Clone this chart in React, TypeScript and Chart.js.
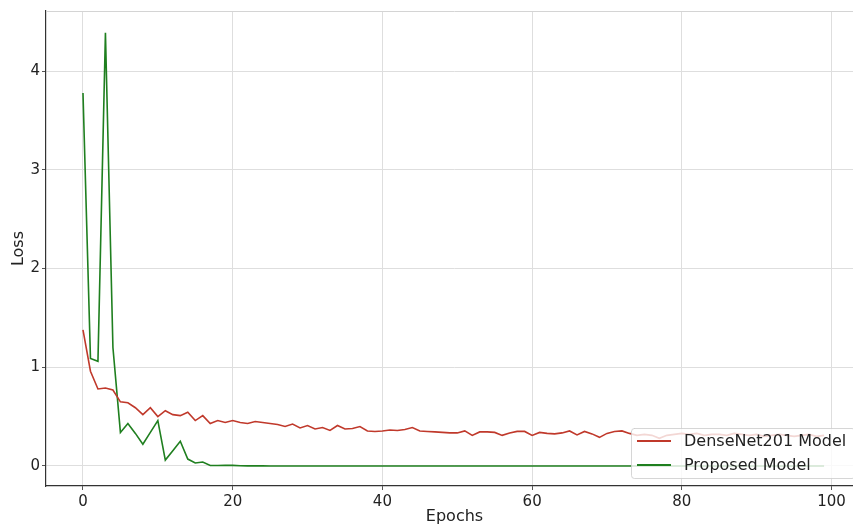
import { useEffect, useRef } from "react";
import { Chart, registerables } from "chart.js";

Chart.register(...registerables);

const epochs = [
  0, 1, 2, 3, 4, 5, 6, 7, 8, 9, 10, 11, 12, 13, 14, 15, 16, 17, 18, 19,
  20, 21, 22, 23, 24, 25, 26, 27, 28, 29, 30, 31, 32, 33, 34, 35, 36, 37, 38, 39,
  40, 41, 42, 43, 44, 45, 46, 47, 48, 49, 50, 51, 52, 53, 54, 55, 56, 57, 58, 59,
  60, 61, 62, 63, 64, 65, 66, 67, 68, 69, 70, 71, 72, 73, 74, 75, 76, 77, 78, 79,
  80, 81, 82, 83, 84, 85, 86, 87, 88, 89, 90, 91, 92, 93, 94, 95, 96, 97, 98, 99,
];

const denseNetLoss = [
  1.38, 0.96, 0.78, 0.79, 0.77, 0.65, 0.64, 0.59, 0.52, 0.59,
  0.5, 0.56, 0.52, 0.51, 0.545, 0.46, 0.51, 0.43, 0.46, 0.44,
  0.46, 0.44, 0.43, 0.45, 0.44, 0.43, 0.42, 0.4, 0.425, 0.385,
  0.41, 0.375, 0.39, 0.36, 0.41, 0.375, 0.38, 0.4, 0.355, 0.35,
  0.355, 0.365, 0.36, 0.37, 0.39, 0.355, 0.35, 0.345, 0.34, 0.335,
  0.335, 0.355, 0.31, 0.345, 0.345, 0.34, 0.31, 0.335, 0.35, 0.35,
  0.31, 0.34, 0.33, 0.325, 0.335, 0.355, 0.315, 0.35, 0.325, 0.29,
  0.33, 0.35, 0.355, 0.33, 0.31, 0.32, 0.31, 0.28, 0.31, 0.32,
  0.33, 0.32, 0.33, 0.31, 0.32, 0.32, 0.31, 0.33, 0.32, 0.31,
  0.32, 0.3, 0.31, 0.32, 0.31, 0.3, 0.31, 0.32, 0.3, 0.31,
];

const proposedLoss = [
  3.78, 1.09, 1.06, 4.39, 1.2, 0.34, 0.43, 0.33, 0.22, 0.34,
  0.46, 0.06, 0.155, 0.25, 0.07, 0.03, 0.04, 0.005, 0.005, 0.008,
  0.006, 0.002, 0.001, 0.001, 0.001, 0, 0, 0, 0, 0,
  0, 0, 0, 0, 0, 0, 0, 0, 0, 0,
  0, 0, 0, 0, 0, 0, 0, 0, 0, 0,
  0, 0, 0, 0, 0, 0, 0, 0, 0, 0,
  0, 0, 0, 0, 0, 0, 0, 0, 0, 0,
  0, 0, 0, 0, 0, 0, 0, 0, 0, 0,
  0, 0, 0, 0, 0, 0, 0, 0, 0, 0,
  0, 0, 0, 0, 0, 0, 0, 0, 0, 0,
];

const seriesLabels = ["DenseNet201 Model", "Proposed Model"];
const seriesColors = ["#c0392b", "#1f7f1f"];
const xTickValues = [0, 20, 40, 60, 80, 100];
const yTickValues = [0, 1, 2, 3, 4];

const FONT = "'DejaVu Sans', 'Liberation Sans', sans-serif";

const decorPlugin = {
  id: "decor",
  afterDatasetsDraw(chart: any) {
    const { ctx, chartArea } = chart;
    ctx.save();
    // top spine (light)
    ctx.strokeStyle = "#d4d4d4";
    ctx.lineWidth = 1;
    ctx.beginPath();
    ctx.moveTo(chartArea.left, chartArea.top + 0.5);
    ctx.lineTo(chartArea.right, chartArea.top + 0.5);
    ctx.stroke();

    // legend (lower right)
    const boxW = 224;
    const boxH = 51;
    const boxRight = chartArea.right - 8;
    const boxBottom = chartArea.bottom - 7;
    const bx = boxRight - boxW;
    const by = boxBottom - boxH;
    ctx.fillStyle = "rgba(255,255,255,0.8)";
    ctx.strokeStyle = "rgba(204,204,204,0.8)";
    ctx.lineWidth = 1;
    ctx.beginPath();
    const r = 3;
    ctx.moveTo(bx + r, by + 0.5);
    ctx.lineTo(bx + boxW - r, by + 0.5);
    ctx.arcTo(bx + boxW, by + 0.5, bx + boxW, by + r, r);
    ctx.lineTo(bx + boxW, by + boxH - r);
    ctx.arcTo(bx + boxW, by + boxH - 0.5, bx + boxW - r, by + boxH - 0.5, r);
    ctx.lineTo(bx + 0.5 + r, by + boxH - 0.5);
    ctx.arcTo(bx + 0.5, by + boxH - 0.5, bx + 0.5, by + boxH - r, r);
    ctx.lineTo(bx + 0.5, by + r);
    ctx.arcTo(bx + 0.5, by + 0.5, bx + r, by + 0.5, r);
    ctx.closePath();
    ctx.fill();
    ctx.stroke();

    ctx.font = `16px ${FONT}`;
    ctx.textBaseline = "middle";
    ctx.textAlign = "left";
    chart.data.datasets.forEach((ds: any, i: number) => {
      const cy = by + 13 + i * 24;
      ctx.strokeStyle = ds.borderColor;
      ctx.lineWidth = 2;
      ctx.beginPath();
      ctx.moveTo(bx + 6, cy);
      ctx.lineTo(bx + 40, cy);
      ctx.stroke();
      ctx.fillStyle = "#222222";
      ctx.fillText(ds.label, bx + 53, cy + 1);
    });
    ctx.restore();
  },
};

export default function App() {
  const canvasRef = useRef<HTMLCanvasElement | null>(null);

  useEffect(() => {
    const canvas = canvasRef.current;
    if (!canvas) return;
    const chart = new Chart(canvas, {
      type: "line",
      data: {
        datasets: [
          {
            label: seriesLabels[0],
            data: epochs.map((e, i) => ({ x: e, y: denseNetLoss[i] })),
            borderColor: seriesColors[0],
            backgroundColor: seriesColors[0],
            borderWidth: 1.6,
            pointRadius: 0,
            tension: 0,
          },
          {
            label: seriesLabels[1],
            data: epochs.map((e, i) => ({ x: e, y: proposedLoss[i] })),
            borderColor: seriesColors[1],
            backgroundColor: seriesColors[1],
            borderWidth: 1.6,
            pointRadius: 0,
            tension: 0,
          },
        ],
      },
      options: {
        animation: false,
        responsive: false,
        devicePixelRatio: 1,
        layout: { padding: { top: 7, left: 0, right: 0, bottom: 0 } },
        plugins: {
          legend: { display: false },
          tooltip: { enabled: false },
        },
        scales: {
          x: {
            type: "linear",
            min: -4.94,
            max: 104.2,
            afterBuildTicks: (scale: any) => {
              scale.ticks = xTickValues.map((v) => ({ value: v }));
            },
            afterFit: (scale: any) => {
              scale.height = 40;
            },
            grid: {
              color: "#dedede",
              lineWidth: 1,
              drawTicks: true,
              tickLength: 4,
              tickColor: "#555555",
            },
            border: { color: "#333333", width: 1.2 },
            ticks: {
              color: "#222222",
              font: { family: FONT, size: 15 },
              padding: 3,
              maxRotation: 0,
            },
            title: {
              display: true,
              text: "Epochs",
              color: "#222222",
              font: { family: FONT, size: 16 },
              padding: { top: 0, bottom: 0 },
            },
          },
          y: {
            type: "linear",
            min: -0.203,
            max: 4.61,
            afterBuildTicks: (scale: any) => {
              scale.ticks = yTickValues.map((v) => ({ value: v }));
            },
            afterFit: (scale: any) => {
              scale.width = 46;
            },
            grid: {
              color: "#dedede",
              lineWidth: 1,
              drawTicks: true,
              tickLength: 4,
              tickColor: "#555555",
            },
            border: { color: "#333333", width: 1.2 },
            ticks: {
              color: "#222222",
              font: { family: FONT, size: 15 },
              padding: 2,
            },
            title: {
              display: true,
              text: "Loss",
              color: "#222222",
              font: { family: FONT, size: 16 },
              padding: { top: 9, bottom: 0 },
            },
          },
        },
      },
      plugins: [decorPlugin],
    });
    return () => chart.destroy();
  }, []);

  return (
    <div
      style={{
        position: "fixed",
        left: 0,
        top: 0,
        width: 853,
        height: 526,
        overflow: "hidden",
        background: "#ffffff",
      }}
    >
      <canvas ref={canvasRef} width={863} height={526} style={{ display: "block" }} />
    </div>
  );
}
